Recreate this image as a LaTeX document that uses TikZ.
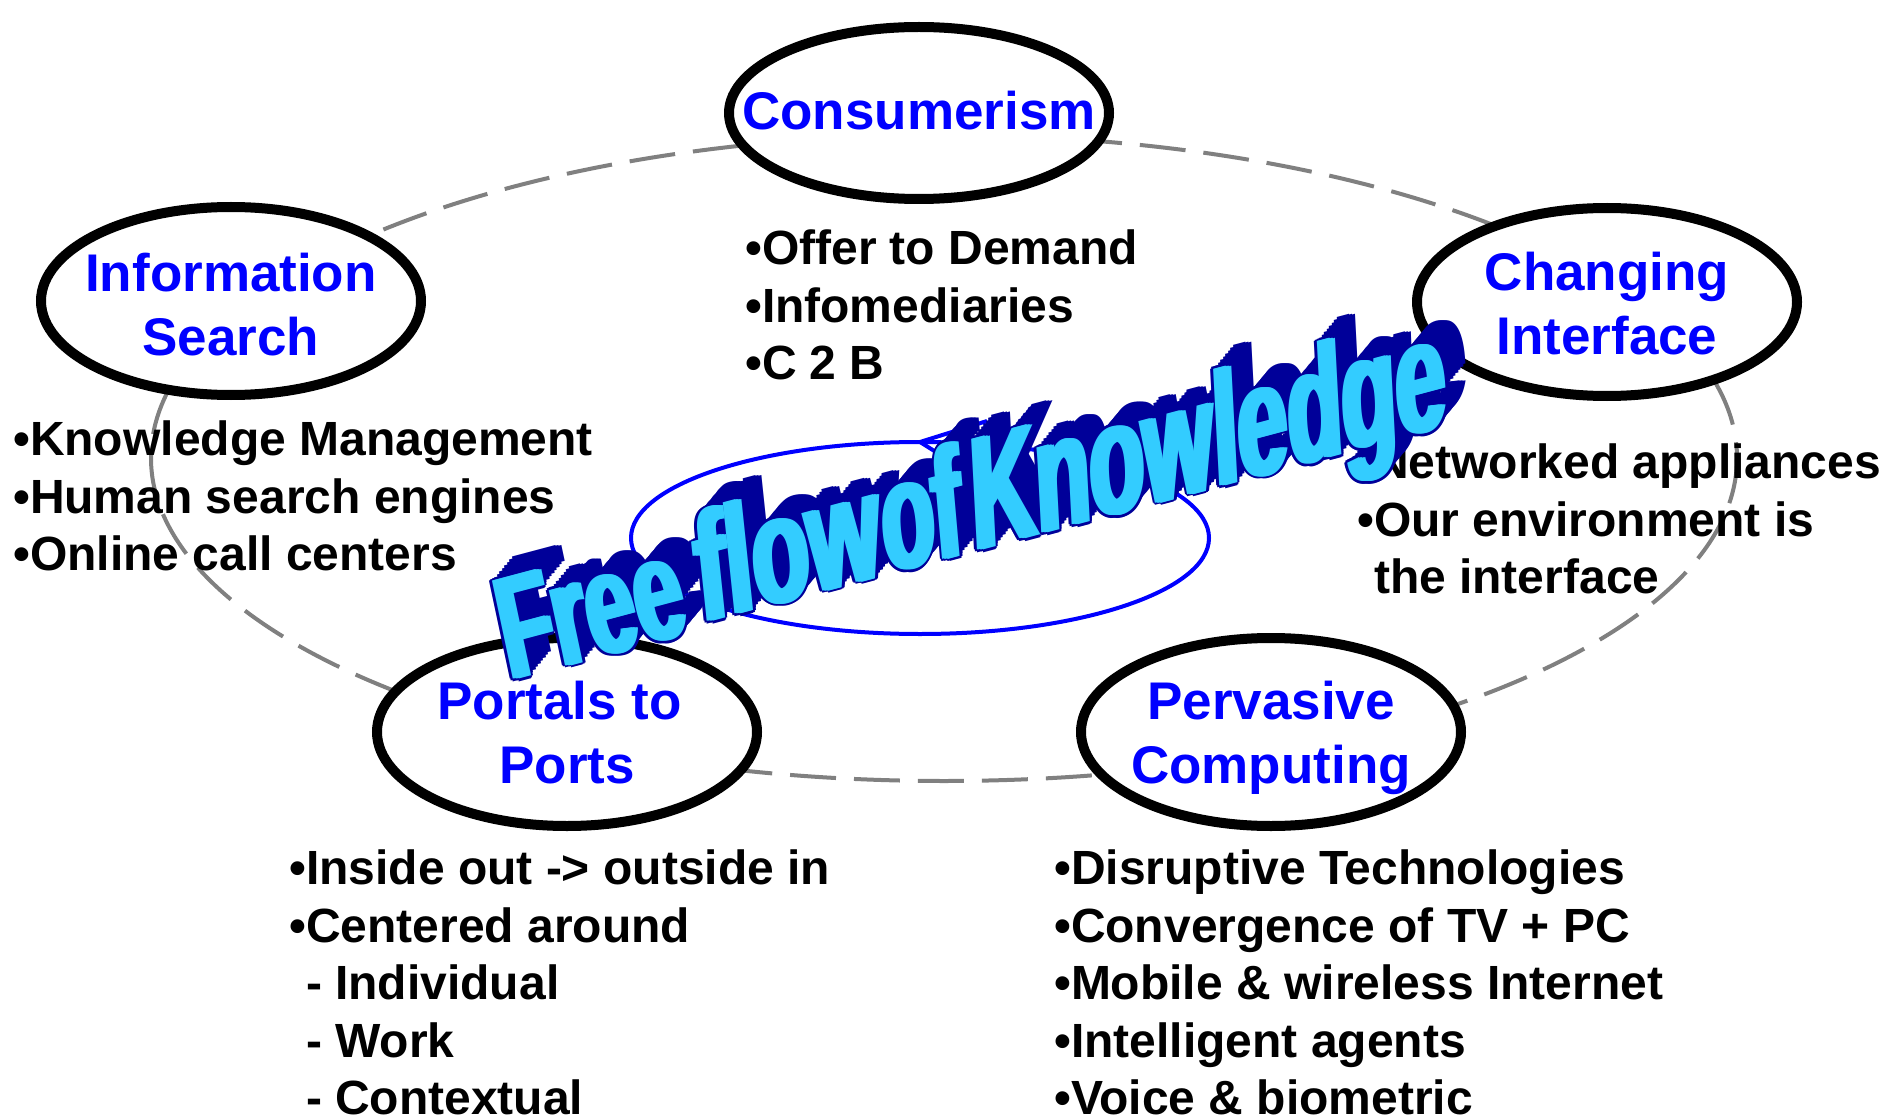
\documentclass[tikz,border=0pt]{standalone}
\usepackage{fontspec}
\setmainfont{Liberation Sans}
\usetikzlibrary{shapes.geometric}
\definecolor{headblue}{HTML}{0000FF}
\definecolor{ringgray}{HTML}{808080}
\definecolor{loopblue}{HTML}{0000FF}
\definecolor{artface}{HTML}{33CCFF}
\definecolor{artdeep}{HTML}{000099}

% the slogan, one node per word, each with its own slant and size
\newcommand\artwords[2]{%
  \node[art, text=#2, cm={0.6117,0.1627,-0.2162,1.0172,(0,0)}] (#1-free) at (510,681) {Free};
  \node[art, text=#2, cm={0.6572,0.1748,-0.1150,1.0940,(0,0)}] (#1-flow) at (701,624) {flow};
  \node[art, text=#2, cm={0.6059,0.1612,-0.0977,1.1157,(0,0)}] (#1-of) at (886,575) {of};
  \node[art, text=#2, cm={0.6349,0.1689,-0.0602,1.1484,(0,0)}] (#1-know) at (974,552) {Knowledge};%
}

\begin{document}
\begin{tikzpicture}[x=1pt,y=-1pt,
  topic/.style={ellipse, draw=black, line width=10pt, fill=white, inner sep=0pt},
  topictext/.style={text=headblue, font=\bfseries\fontsize{53}{64}\selectfont, align=center, inner sep=0pt},
  notes/.style={font=\bfseries\fontsize{48}{57.5}\selectfont, align=left, inner sep=0pt, anchor=north west},
  ring/.style={draw=ringgray, line width=4pt, dash pattern=on 46pt off 18pt},
  loopline/.style={draw=loopblue, line width=4pt},
  art/.style={font=\bfseries\fontsize{140}{140}\selectfont, inner sep=0pt, anchor=base west, transform shape}]

\useasboundingbox[fill=white] (0,0) rectangle (1898,1115);

% dashed ring linking the five themes
\draw[ring] (944,458) ellipse [x radius=793, y radius=323];

% theme ellipses
\node[topic, minimum width=380pt, minimum height=172pt] (cons) at (919,113) {};
\node[topic, minimum width=380pt, minimum height=188pt] (info) at (231,301) {};
\node[topic, minimum width=380pt, minimum height=188pt] (chif) at (1607,302) {};
\node[topic, minimum width=380pt, minimum height=188pt] (port) at (567,732) {};
\node[topic, minimum width=380pt, minimum height=188pt] (perv) at (1271,732) {};

\node[topictext, yshift=2pt] (cons-t) at (cons) {Consumerism};
\node[topictext, yshift=-4pt] (info-t) at (info) {Information\\Search};
\node[topictext, yshift=-2pt] (chif-t) at (chif) {Changing\\Interface};
\node[topictext, yshift=-1pt] (port-t) at (port) {Portals to\hspace*{0.278em}\\Ports};
\node[topictext, yshift=-6pt] (perv-t) at (perv) {Pervasive\\Computing};

% bullet lists
\node[notes] (cons-n) at (745,230) {•Offer to Demand\\•Infomediaries\\•C 2 B};
\node[notes] (info-n) at (13,421) {•Knowledge Management\\•Human search engines\\•Online call centers};
\node[notes] (chif-n) at (1357,444) {•Networked appliances\\•Our environment is\\\phantom{•}the interface};
\node[notes] (port-n) at (289,850) {•Inside out -> outside in\\•Centered around\\\phantom{•}- Individual\\\phantom{•}- Work\\\phantom{•}- Contextual};
\node[notes] (perv-n) at (1054,850) {•Disruptive Technologies\\•Convergence of TV + PC\\•Mobile \& wireless Internet\\•Intelligent agents\\•Voice \& biometric};

% circular flow with its arrowhead
\draw[loopline] (920,538) ellipse [x radius=289, y radius=96];
\coordinate (tip) at (920,442);
\coordinate (barb1) at (987,421);
\coordinate (barb2) at (979,479);
\draw[loopline] (barb1) -- (tip) -- (barb2);

% slogan: extruded depth, dark rim, then the light face (copies side by side thicken the strokes)
\foreach \k in {8,7,...,1} {
  \foreach \h [count=\j] in {-3,0,3} {
    \begin{scope}[shift={({20*\k/8+\h},{-24*\k/8})}]
      \artwords{deep\k-\j}{artdeep}
    \end{scope}
  }
}
\foreach \h [count=\j] in {-3,3} {
  \foreach \a [count=\k] in {0,45,...,315} {
    \begin{scope}[shift={({\h+2.6*cos(\a)},{2.6*sin(\a)})}]
      \artwords{rim\j-\k}{artdeep}
    \end{scope}
  }
}
\foreach \h [count=\j] in {-3,-1.5,0,1.5,3} {
  \begin{scope}[shift={(\h,0)}]
    \artwords{face\j}{artface}
  \end{scope}
}
\end{tikzpicture}
\end{document}
